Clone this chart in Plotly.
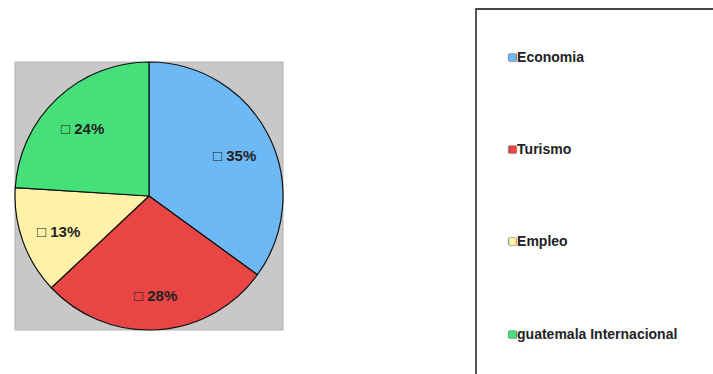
import math
import plotly.graph_objects as go

categories = ["Economia", "Turismo", "Empleo", "guatemala Internacional"]
values = [35, 28, 13, 24]
colors = ["#6cb9f6", "#e94545", "#fff2a8", "#45e07a"]

W, H = 713, 374
px0, px1, py0, py1 = 15, 283, 62, 330  # pie square (pixels)

fig = go.Figure()
fig.add_trace(go.Pie(
    labels=categories, values=values, sort=False, direction="clockwise", rotation=0,
    marker=dict(colors=colors, line=dict(color="#111", width=1.2)),
    textinfo="none",
    domain=dict(x=[px0 / W, px1 / W], y=[1 - py1 / H, 1 - py0 / H]),
    showlegend=False, hoverinfo="label+percent",
))

# percentage labels placed along each slice's bisector
total = sum(values)
cx, cy, R = (px0 + px1) / 2, (py0 + py1) / 2, (px1 - px0) / 2
cum = 0
for v in values:
    mid = (cum + v / 2) / total * 2 * math.pi
    cum += v
    r = 0.72 * R
    x = cx + r * math.sin(mid)
    y = cy - r * math.cos(mid) + 3
    fig.add_annotation(x=x / W, y=1 - y / H, xref="paper", yref="paper",
                       xanchor="center", yanchor="middle",
                       text=f"<b>\u25a1 {round(v / total * 100)}%</b>", showarrow=False,
                       font=dict(family="Liberation Sans, Arial", size=15, color="#222"))

for c, col in zip(categories, colors):
    fig.add_trace(go.Scatter(
        x=[None], y=[None], mode="markers", legendgroup=c,
        name=(f"<span style='color:{col};font-size:15px;"
              f"text-shadow:0 0 1px #000,0 0 1px #000'>\u25a0</span><b>{c}</b>"),
        marker=dict(symbol="square", size=1, color="rgba(0,0,0,0)"),
    ))

fig.add_shape(type="rect", xref="paper", yref="paper",
              x0=px0 / W, x1=px1 / W, y0=1 - py1 / H, y1=1 - py0 / H,
              fillcolor="#c8c8c8", line=dict(color="#b0b0b0", width=1), layer="below")
fig.add_shape(type="rect", xref="paper", yref="paper",
              x0=476 / W, x1=1.05, y0=-0.05, y1=1 - 9 / H,
              fillcolor="rgba(0,0,0,0)", line=dict(color="#444", width=1.8), layer="above")

fig.update_layout(
    width=W, height=H, margin=dict(l=0, r=0, t=0, b=0),
    paper_bgcolor="white", plot_bgcolor="white",
    xaxis=dict(visible=False), yaxis=dict(visible=False),
    legend=dict(x=468 / W, y=1 - 41 / H, xanchor="left", yanchor="top",
                font=dict(family="Liberation Sans, Arial", size=14, color="#222"),
                tracegroupgap=71, traceorder="grouped", itemwidth=30,
                bgcolor="rgba(0,0,0,0)"),
)
fig.write_html("out.html")
